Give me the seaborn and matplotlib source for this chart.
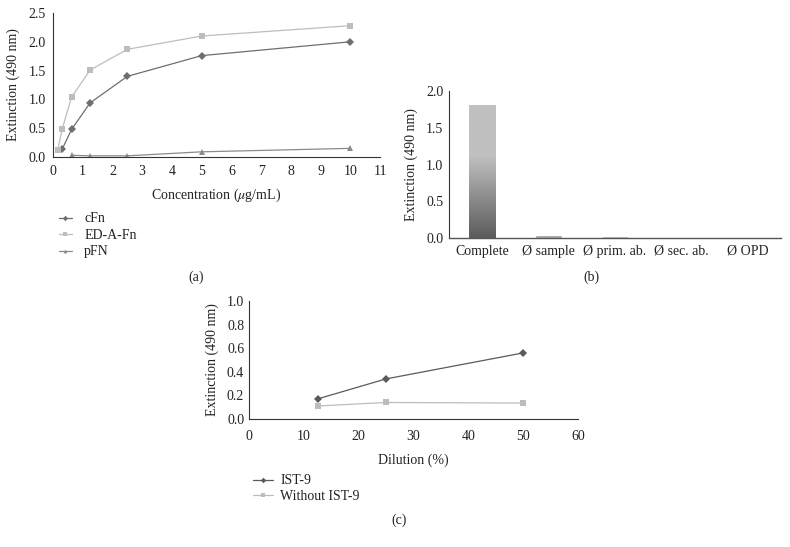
import numpy as np
import pandas as pd
import matplotlib
matplotlib.use("Agg")
import matplotlib.pyplot as plt
import seaborn as sns

# Panel (a): binding curves
conc_cfn = [0.3125, 0.625, 1.25, 2.5, 5, 10]
ext_cfn = [0.14, 0.48, 0.94, 1.40, 1.76, 2.00]
conc_eda = [0.156, 0.3125, 0.625, 1.25, 2.5, 5, 10]
ext_eda = [0.12, 0.49, 1.04, 1.51, 1.87, 2.10, 2.28]
conc_pfn = [0.625, 1.25, 2.5, 5, 10]
ext_pfn = [0.03, 0.02, 0.02, 0.09, 0.15]

# Panel (b): controls
controls = ["Complete", "Ø sample", "Ø prim. ab.", "Ø sec. ab.", "Ø OPD"]
ext_controls = [1.81, 0.035, 0.03, 0.02, 0.0]

# Panel (c): dilution series
dilution = [12.5, 25, 50]
ext_ist9 = [0.17, 0.34, 0.56]
ext_without = [0.11, 0.14, 0.135]

FS = 10

sns.set_style("white")
plt.rcParams["font.family"] = ["Liberation Serif", "DejaVu Serif"]
plt.rcParams["mathtext.fontset"] = "stix"
plt.rcParams["font.size"] = FS
plt.rcParams["axes.edgecolor"] = "#333333"
plt.rcParams["axes.linewidth"] = 0.8
plt.rcParams["xtick.color"] = "#222222"
plt.rcParams["ytick.color"] = "#222222"
plt.rcParams["text.color"] = "#222222"
plt.rcParams["axes.labelcolor"] = "#222222"

W, H = 790, 547
fig = plt.figure(figsize=(W / 100, H / 100), dpi=100)


def px_axes(x0, y0, x1, y1):
    return fig.add_axes([x0 / W, 1 - y1 / H, (x1 - x0) / W, (y1 - y0) / H])


def style(ax, xpad, ypad, ticklen=0):
    sns.despine(ax=ax)
    ax.tick_params(axis="x", length=ticklen, width=0.6, pad=xpad, labelsize=FS)
    ax.tick_params(axis="y", length=ticklen, width=0.6, pad=ypad, labelsize=FS)


fmt = matplotlib.ticker.FormatStrFormatter("%.1f")

# ---- (a)
ax_a = px_axes(53, 13, 380, 157)
df_a = pd.concat([
    pd.DataFrame({"x": conc_cfn, "y": ext_cfn, "s": "cFn"}),
    pd.DataFrame({"x": conc_eda, "y": ext_eda, "s": "ED-A-Fn"}),
    pd.DataFrame({"x": conc_pfn, "y": ext_pfn, "s": "pFN"}),
])
sns.lineplot(data=df_a, x="x", y="y", hue="s", style="s",
             palette={"cFn": "#6e6e6e", "ED-A-Fn": "#bdbdbd", "pFN": "#8a8a8a"},
             markers={"cFn": "D", "ED-A-Fn": "s", "pFN": "^"},
             dashes=False, markersize=4.5, linewidth=0.9,
             markeredgewidth=0, ax=ax_a, legend=True)
ax_a.set_xlim(0, 11)
ax_a.set_ylim(0, 2.5)
ax_a.set_xticks(range(0, 12))
ax_a.set_yticks(np.arange(0, 2.51, 0.5))
ax_a.yaxis.set_major_formatter(fmt)
style(ax_a, 4, 3, ticklen=2)
ax_a.set_xlabel("Concentration ($\\mu$g/mL)", fontsize=FS)
ax_a.set_ylabel("Extinction (490 nm)", fontsize=FS)
ax_a.xaxis.set_label_coords(0.5, -0.205)
ax_a.yaxis.set_label_coords(-0.1, 0.5)
h, l = ax_a.get_legend_handles_labels()
ax_a.get_legend().remove()
fig.legend(h, l, loc="upper left", bbox_to_anchor=(46 / W, 1 - 200 / H),
           frameon=False, fontsize=FS, handlelength=1.0, labelspacing=0.25,
           handletextpad=0.85, markerscale=0.6)
fig.text(196 / W, 1 - 277 / H, "(a)", ha="center", va="center", fontsize=FS)

# ---- (b)
ax_b = px_axes(449, 91, 781, 238)
df_b = pd.DataFrame({"c": controls, "v": ext_controls})
sns.barplot(data=df_b, x="c", y="v", color="#9a9a9a", width=0.4,
            saturation=1, ax=ax_b)
ax_b.set_ylim(0, 2.0)
ax_b.set_yticks(np.arange(0, 2.01, 0.5))
ax_b.yaxis.set_major_formatter(fmt)
# gradient fill on the tall bar
bar = ax_b.patches[0]
bx, bw, bh = bar.get_x(), bar.get_width(), bar.get_height()
grad = np.concatenate([np.linspace(0.36, 0.74, 60), np.full(40, 0.75)]).reshape(-1, 1)
img = ax_b.imshow(grad, cmap="gray", vmin=0, vmax=1, origin="lower", aspect="auto",
                  extent=[bx, bx + bw, 0, bh], zorder=3)
img.set_clip_path(bar)
ax_b.set_xlim(-0.5, 4.5)
style(ax_b, 5, 4)
ax_b.spines["bottom"].set_color("#555555")
ax_b.spines["bottom"].set_linewidth(1.0)
ax_b.set_xlabel("")
ax_b.set_ylabel("Extinction (490 nm)", fontsize=FS)
ax_b.yaxis.set_label_coords(-0.094, 0.5)
fig.text(591 / W, 1 - 277 / H, "(b)", ha="center", va="center", fontsize=FS)

# ---- (c)
ax_c = px_axes(249, 301, 578, 419)
df_c = pd.concat([
    pd.DataFrame({"x": dilution, "y": ext_ist9, "s": "IST-9"}),
    pd.DataFrame({"x": dilution, "y": ext_without, "s": "Without IST-9"}),
])
sns.lineplot(data=df_c, x="x", y="y", hue="s", style="s",
             palette={"IST-9": "#5a5a5a", "Without IST-9": "#bcbcbc"},
             markers={"IST-9": "D", "Without IST-9": "s"},
             dashes=False, markersize=4, linewidth=0.9,
             markeredgewidth=0, ax=ax_c, legend=True)
ax_c.set_xlim(0, 60)
ax_c.set_ylim(0, 1.0)
ax_c.set_xticks(range(0, 61, 10))
ax_c.set_yticks(np.arange(0, 1.01, 0.2))
ax_c.yaxis.set_major_formatter(fmt)
style(ax_c, 8, 3.5)
ax_c.set_xlabel("Dilution (%)", fontsize=FS)
ax_c.set_ylabel("Extinction (490 nm)", fontsize=FS)
ax_c.xaxis.set_label_coords(0.5, -0.295)
ax_c.yaxis.set_label_coords(-0.091, 0.5)
h, l = ax_c.get_legend_handles_labels()
ax_c.get_legend().remove()
fig.legend(h, l, loc="upper left", bbox_to_anchor=(240 / W, 1 - 462 / H),
           frameon=False, fontsize=FS, handlelength=1.5, labelspacing=0.2,
           handletextpad=0.5, markerscale=0.7)
fig.text(399 / W, 1 - 520 / H, "(c)", ha="center", va="center", fontsize=FS)

fig.savefig("out.png", dpi=100)
